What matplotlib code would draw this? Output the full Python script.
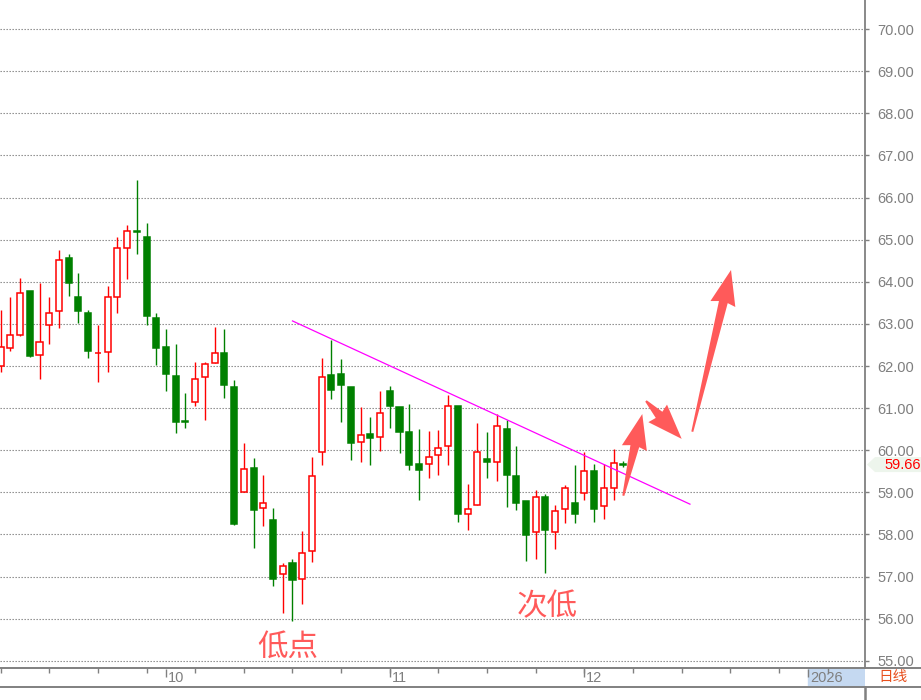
import numpy as np
import matplotlib
matplotlib.use('Agg')
import matplotlib.pyplot as plt
from matplotlib.patches import Polygon
from matplotlib.lines import Line2D

# daily candles (index 0 = leftmost visible bar)
opens = [62.00, 62.43, 62.73, 63.79, 62.26, 62.98, 63.31, 64.57, 63.65, 63.27,
         62.30, 62.33, 63.64, 64.81, 65.20, 65.06, 63.13, 62.44, 61.77, 60.68,
         61.14, 61.75, 62.07, 62.32, 61.51, 59.02, 59.58, 58.62, 58.34, 57.05,
         57.32, 56.95, 57.60, 59.95, 61.79, 61.82, 61.51, 60.19, 60.39, 60.31,
         61.41, 61.03, 60.44, 59.67, 59.67, 59.88, 60.10, 61.06, 58.48, 58.71,
         59.79, 59.71, 60.51, 59.39, 58.79, 58.07, 58.89, 58.07, 58.60, 58.74,
         58.98, 59.50, 58.67, 59.10, 59.67]
highs = [63.32, 63.65, 64.09, 63.79, 63.97, 63.65, 64.75, 64.67, 64.20, 63.34,
         62.98, 63.90, 65.06, 65.34, 66.41, 65.39, 63.25, 62.89, 62.53, 61.37,
         62.10, 62.10, 62.92, 62.89, 61.67, 60.17, 59.82, 59.41, 58.63, 57.32,
         57.41, 58.08, 59.84, 62.20, 62.61, 62.17, 61.51, 61.03, 60.80, 61.40,
         61.52, 61.03, 61.10, 60.51, 60.46, 60.48, 61.30, 61.06, 59.20, 60.65,
         60.44, 60.86, 60.72, 60.10, 58.79, 59.06, 58.96, 58.71, 59.17, 59.64,
         59.96, 59.67, 59.67, 60.03, 59.75]
lows = [61.85, 62.36, 62.71, 62.21, 61.68, 62.52, 62.90, 63.67, 63.01, 62.18,
        61.61, 61.85, 63.25, 64.06, 64.67, 62.97, 62.02, 61.40, 60.40, 60.54,
        61.04, 60.72, 62.06, 61.25, 58.22, 59.02, 57.68, 58.21, 56.78, 56.13,
        55.94, 56.35, 57.35, 59.66, 61.22, 60.68, 59.78, 59.71, 59.66, 59.99,
        60.52, 59.94, 59.52, 58.83, 59.33, 59.42, 59.66, 58.30, 58.11, 58.71,
        59.33, 59.28, 58.66, 58.58, 57.37, 57.42, 57.09, 57.66, 58.28, 58.28,
        58.83, 58.29, 58.37, 58.83, 59.61]
closes = [62.44, 62.74, 63.74, 62.23, 62.57, 63.26, 64.52, 63.97, 63.30, 62.35,
          62.31, 63.65, 64.79, 65.21, 65.19, 63.18, 62.42, 61.80, 60.66, 60.67,
          61.69, 62.04, 62.31, 61.54, 58.25, 59.55, 58.59, 58.74, 56.94, 57.24,
          56.92, 57.57, 59.38, 61.74, 61.44, 61.56, 60.18, 60.36, 60.30, 60.88,
          61.04, 60.44, 59.66, 59.54, 59.83, 60.05, 61.06, 58.49, 58.60, 59.95,
          59.73, 60.57, 59.42, 58.75, 57.99, 58.89, 58.11, 58.55, 59.10, 58.49,
          59.50, 58.60, 59.10, 59.69, 59.66]

price_ticks = list(range(55, 71))
week_ticks = list(range(0, 90, 5))
month_ticks = [17, 40, 60]
month_labels = ['10', '11', '12']
year_tick = 83
year_label = '2026'

# hand-drawn resistance line (bar index, price)
trend_x = [30, 70.85]
trend_y = [63.07, 58.72]

# red annotation arrows: (tail, tip) in (bar index, price)
arrows = [((64.0, 58.92), (65.95, 60.86)),
          ((66.33, 61.17), (70.0, 60.27)),
          ((71.09, 60.44), (75.07, 64.28))]

notes = [('低点', 29.5, 55.31), ('次低', 56.15, 56.28)]

RED = '#ff0000'
GREEN = '#008000'
GRID = '#808080'
NOTE = '#ff5a5a'
CJK = ['Noto Sans CJK SC', 'DejaVu Sans']
NUM = 'Liberation Sans'

W, H = 921, 700
fig = plt.figure(figsize=(W / 100, H / 100), dpi=100)
ax = fig.add_axes([0, 32 / H, 865 / W, 668 / H])
ax.set_xlim(-0.06, 88.84)
ax.set_ylim(54.83, 70.69)

for v in price_ticks:
    ax.axhline(v, color=GRID, lw=0.8, ls=(0, (1.2, 1.5)), zorder=0)

for i in range(len(opens)):
    o, h, l, c = opens[i], highs[i], lows[i], closes[i]
    up = c > o
    col = RED if up else GREEN
    ax.vlines(i, l, h, color=col, lw=1.0, zorder=2)
    ax.bar(i, max(abs(c - o), 0.02), bottom=min(o, c), width=0.62,
           facecolor='white' if up else GREEN, edgecolor=col, lw=1.1, zorder=3)

ax.plot(trend_x, trend_y, color='#ff00ff', lw=0.9, zorder=4)

# arrows built in pixel space so they keep their shape
fig.canvas.draw()
to_px = ax.transData.transform
to_data = ax.transData.inverted().transform
for tail, tip in arrows:
    T = to_px(tail)
    P = to_px(tip)
    u = (P - T) / np.hypot(*(P - T))
    n = np.array([-u[1], u[0]])
    base = P - u * 33
    pts = [T - n * 1.0, base - n * 4.5, base - n * 12.8 - u * 2, P,
           base + n * 12.8 - u * 2, base + n * 4.5, T + n * 1.0]
    ax.add_patch(Polygon(to_data(np.array(pts)), closed=True, facecolor=NOTE,
                         edgecolor='none', zorder=5))

for s, xi, yi in notes:
    ax.text(xi, yi, s, color=NOTE, fontsize=22, family=CJK,
            ha='center', va='center', zorder=6)

# right price axis
ax.yaxis.tick_right()
ax.set_yticks(price_ticks)
ax.set_yticklabels([f'{v:.2f}' for v in price_ticks], fontsize=10.5,
                   family=NUM, color='#7f7f7f')
ax.tick_params(axis='y', length=3, pad=6, color=GRID, width=1)
ax.set_xticks([])
for side in ['top', 'left', 'bottom']:
    ax.spines[side].set_visible(False)
ax.spines['right'].set_color(GRID)
ax.spines['right'].set_linewidth(1.3)

# bottom date strip
ax2 = fig.add_axes([0, 13 / H, 865 / W, 19 / H], sharex=ax)
ax2.set_ylim(0, 1)
ax2.axis('off')
ax2.axvspan(year_tick, 88.84, color='#c5d9f1', zorder=0)
ax2.vlines(week_ticks, 0.74, 1, color=GRID, lw=1.0)
ax2.vlines(month_ticks + [year_tick], 0.52, 0.95, color=GRID, lw=1.0)
for m, lab in zip(month_ticks + [year_tick], month_labels + [year_label]):
    ax2.text(m + 0.2, 0.45, lab, color='#7f7f7f', fontsize=10.5, family=NUM,
             ha='left', va='center')

for yy in [32 / H, 13 / H]:
    fig.add_artist(Line2D([0, 1], [yy, yy], transform=fig.transFigure,
                          color=GRID, lw=1.4))
fig.add_artist(Line2D([865 / W, 865 / W], [0, 13 / H], transform=fig.transFigure,
                      color=GRID, lw=1.8))
fig.text(878 / W, 1 - 677 / H, '日线', color='#e8501e', fontsize=10.5,
         family=CJK, ha='left', va='center')

# last price flag
last = closes[-1]
yc = fig.transFigure.inverted().transform(ax.transData.transform((0, last)))[1]
hh = 7.5 / H
flag = [(867 / W, yc), (875 / W, yc + hh), (1, yc + hh), (1, yc - hh), (875 / W, yc - hh)]
fig.add_artist(Polygon(flag, closed=True, transform=fig.transFigure,
                       facecolor='#edf5ec', edgecolor='none'))
fig.text(884 / W, yc, f'{last:.2f}', color=RED, fontsize=10.5, family=NUM,
         ha='left', va='center')

fig.savefig('out.png', dpi=100)
